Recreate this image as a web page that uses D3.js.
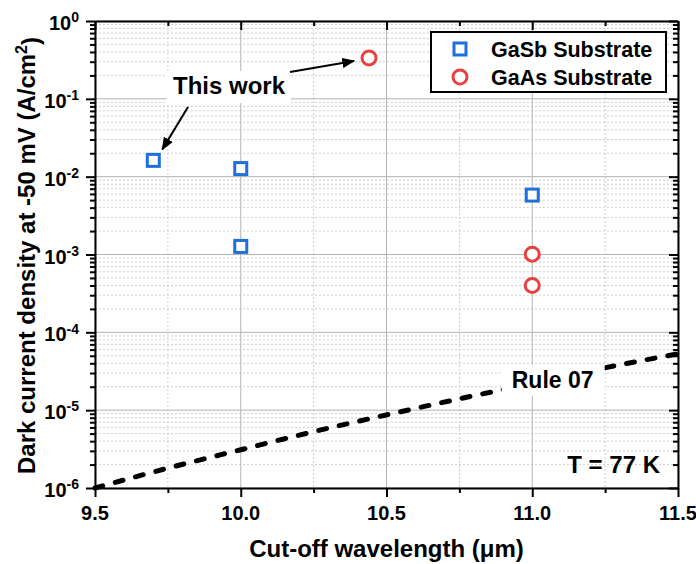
<!DOCTYPE html>
<html>
<head>
<meta charset="utf-8">
<script src="https://cdn.jsdelivr.net/npm/d3@7"></script>
<style>
  body { margin: 0; background: #fff; }
  svg { font-family: "Liberation Sans", Arial, sans-serif; font-weight: bold; }
  .axis path, .axis line { stroke: #000; stroke-width: 2; }
  .axis text { display: none; }
</style>
</head>
<body>
<div id="graphic"></div>
<script>
// x ticks (µm) and y decades
const xTickValues = [9.5, 10.0, 10.5, 11.0, 11.5];
const xMinorValues = [9.75, 10.25, 10.75, 11.25];
const yExponents = [0, -1, -2, -3, -4, -5, -6];

// GaSb substrate points
const gasbWavelength = [9.7, 10.0, 10.0, 11.0];
const gasbDensity = [0.0162, 0.0127, 0.00127, 0.0058];

// GaAs substrate points
const gaasWavelength = [10.44, 11.0, 11.0];
const gaasDensity = [0.335, 0.00101, 0.0004];

// Rule 07 line
const rule07Wavelength = [9.5, 9.75, 10.0, 10.25, 10.5, 10.75, 11.0, 11.25, 11.5];
const rule07Density = [1.0e-6, 1.8e-6, 3.1e-6, 5.3e-6, 8.7e-6, 1.4e-5, 2.2e-5, 3.5e-5, 5.3e-5];

const W = 696, H = 564;
const margin = { top: 21, right: 18, bottom: 76, left: 95 };
const width = W - margin.left - margin.right;
const height = H - margin.top - margin.bottom;

const blue = '#1f6fdc';
const red = '#ea4040';

const svgRoot = d3.select('#graphic').append('svg')
	.attr('width', W).attr('height', H);

const defs = svgRoot.append('defs');
defs.append('marker')
	.attr('id', 'arrow')
	.attr('viewBox', '0 0 10 10')
	.attr('refX', 9).attr('refY', 5)
	.attr('markerWidth', 13).attr('markerHeight', 13)
	.attr('markerUnits', 'userSpaceOnUse')
	.attr('orient', 'auto')
	.append('path')
	.attr('d', 'M0,1 L10,5 L0,9 Z')
	.attr('fill', '#000');

const svg = svgRoot.append('g')
	.attr('transform', `translate(${margin.left},${margin.top})`);

const x = d3.scaleLinear().domain([9.5, 11.5]).range([0, width]);
const y = d3.scaleLog().domain([1e-6, 1]).range([height, 0]);

// minor log values 2..9 per decade
const yMinor = [];
yExponents.slice(1).forEach((e) => {
	for (let k = 2; k <= 9; k++) yMinor.push(k * Math.pow(10, e));
});
const yMajor = yExponents.map((e) => Math.pow(10, e));

// grid lines
const grid = svg.append('g').attr('class', 'grid');
grid.selectAll('.ymin').data(yMinor).join('line')
	.attr('x1', 0).attr('x2', width)
	.attr('y1', (d) => y(d)).attr('y2', (d) => y(d))
	.attr('stroke', '#cfcfcf').attr('stroke-width', 1).attr('stroke-dasharray', '2,2');
grid.selectAll('.xmin').data(xMinorValues).join('line')
	.attr('x1', (d) => x(d)).attr('x2', (d) => x(d))
	.attr('y1', 0).attr('y2', height)
	.attr('stroke', '#cfcfcf').attr('stroke-width', 1).attr('stroke-dasharray', '2,2');
grid.selectAll('.ymaj').data(yMajor).join('line')
	.attr('x1', 0).attr('x2', width)
	.attr('y1', (d) => y(d)).attr('y2', (d) => y(d))
	.attr('stroke', '#b4b4b4').attr('stroke-width', 1);
grid.selectAll('.xmaj').data(xTickValues).join('line')
	.attr('x1', (d) => x(d)).attr('x2', (d) => x(d))
	.attr('y1', 0).attr('y2', height)
	.attr('stroke', '#b4b4b4').attr('stroke-width', 1);

// Rule 07 dashed line
const ruleLine = d3.line()
	.x((d, i) => x(rule07Wavelength[i]))
	.y((d) => y(d))
	.curve(d3.curveMonotoneX);
svg.append('path')
	.datum(rule07Density)
	.attr('d', ruleLine)
	.attr('fill', 'none')
	.attr('stroke', '#000')
	.attr('stroke-width', 5)
	.attr('stroke-dasharray', '8,13')
	.attr('stroke-linecap', 'round');

// Rule 07 label with white box
const ruleLabel = svg.append('g').attr('transform', `translate(${x(11.07)},${y(2.45e-5)})`);
ruleLabel.append('rect').attr('x', -51).attr('y', -15).attr('width', 103).attr('height', 31).attr('fill', '#fff');
ruleLabel.append('text').attr('text-anchor', 'middle').attr('dy', '0.35em')
	.style('font-size', '23px').text('Rule 07');

// axes
function drawAxis(axisFn, minorVals, majorVals, minorSize, majorSize, transform) {
	const g = svg.append('g').attr('class', 'axis').attr('transform', transform);
	g.call(axisFn.tickValues(minorVals).tickSize(minorSize).tickSizeOuter(0).tickFormat(''));
	g.append('g').call(axisFn.tickValues(majorVals).tickSize(majorSize).tickFormat(''))
		.select('.domain').remove();
	return g;
}
drawAxis(d3.axisLeft(y), yMinor, yMajor, 5, 9, 'translate(0,0)');
drawAxis(d3.axisRight(y), yMinor, yMajor, -5, -9, `translate(${width},0)`);
drawAxis(d3.axisBottom(x), xMinorValues, xTickValues, 5, 9, `translate(0,${height})`);
drawAxis(d3.axisTop(x), xMinorValues, xTickValues, -5, -9, 'translate(0,0)');

// y tick labels 10^n
yExponents.forEach((e) => {
	const t = svg.append('text')
		.attr('x', -16).attr('y', y(Math.pow(10, e)))
		.attr('dy', '0.45em')
		.attr('text-anchor', 'end')
		.style('font-size', '20px');
	t.append('tspan').text('10');
	t.append('tspan').attr('dy', '-0.55em').style('font-size', '14px').text(e);
});

// x tick labels
svg.selectAll('.xlab').data(xTickValues).join('text')
	.attr('x', (d) => x(d)).attr('y', height + 32)
	.attr('text-anchor', 'middle')
	.style('font-size', '20px')
	.text((d) => d3.format('.1f')(d));

// axis titles
svg.append('text')
	.attr('x', width / 2).attr('y', height + 69)
	.attr('text-anchor', 'middle')
	.style('font-size', '24px')
	.text('Cut-off wavelength (\u03bcm)');

const yTitle = svg.append('text')
	.attr('transform', `translate(${-60},${height / 2 + 1}) rotate(-90)`)
	.attr('text-anchor', 'middle')
	.style('font-size', '24px');
yTitle.append('tspan').text('Dark current density at -50 mV (A/cm');
yTitle.append('tspan').attr('dy', '-0.5em').style('font-size', '16px').text('2');
yTitle.append('tspan').attr('dy', '0.5em').text(')');

// data markers
svg.selectAll('.gasb').data(gasbDensity).join('rect')
	.attr('x', (d, i) => x(gasbWavelength[i]) - 6)
	.attr('y', (d) => y(d) - 6)
	.attr('width', 12).attr('height', 12)
	.attr('fill', '#fff').attr('stroke', blue).attr('stroke-width', 3);
svg.selectAll('.gaas').data(gaasDensity).join('circle')
	.attr('cx', (d, i) => x(gaasWavelength[i]))
	.attr('cy', (d) => y(d))
	.attr('r', 7)
	.attr('fill', '#fff').attr('stroke', red).attr('stroke-width', 3);

// "This work" annotation
const noteX = 229 - margin.left, noteY = 86 - margin.top;
svg.append('rect').attr('x', noteX - 62).attr('y', noteY - 15).attr('width', 124).attr('height', 32).attr('fill', '#fff');
svg.append('text').attr('x', noteX).attr('y', noteY).attr('dy', '0.35em')
	.attr('text-anchor', 'middle').style('font-size', '24px').text('This work');
svg.append('line')
	.attr('x1', noteX + 61).attr('y1', noteY - 14)
	.attr('x2', x(gaasWavelength[0]) - 15).attr('y2', y(gaasDensity[0]) + 3)
	.attr('stroke', '#000').attr('stroke-width', 2).attr('marker-end', 'url(#arrow)');
svg.append('line')
	.attr('x1', noteX - 41).attr('y1', noteY + 21)
	.attr('x2', x(gasbWavelength[0]) + 9).attr('y2', y(gasbDensity[0]) - 11)
	.attr('stroke', '#000').attr('stroke-width', 2).attr('marker-end', 'url(#arrow)');

// T label
svg.append('text').attr('x', width - 18).attr('y', height - 15)
	.attr('text-anchor', 'end').style('font-size', '24px').text('T = 77 K');

// legend
const legend = svg.append('g').attr('transform', `translate(${431 - margin.left},${32 - margin.top})`);
legend.append('rect').attr('width', 235).attr('height', 60)
	.attr('fill', '#fff').attr('stroke', '#000').attr('stroke-width', 2);
legend.append('rect').attr('x', 23).attr('y', 11).attr('width', 12).attr('height', 12)
	.attr('fill', '#fff').attr('stroke', blue).attr('stroke-width', 3);
legend.append('circle').attr('cx', 29).attr('cy', 45).attr('r', 7)
	.attr('fill', '#fff').attr('stroke', red).attr('stroke-width', 3);
legend.append('text').attr('x', 60).attr('y', 17).attr('dy', '0.35em').style('font-size', '21.5px').text('GaSb Substrate');
legend.append('text').attr('x', 60).attr('y', 45).attr('dy', '0.35em').style('font-size', '21.5px').text('GaAs Substrate');
</script>
</body>
</html>
